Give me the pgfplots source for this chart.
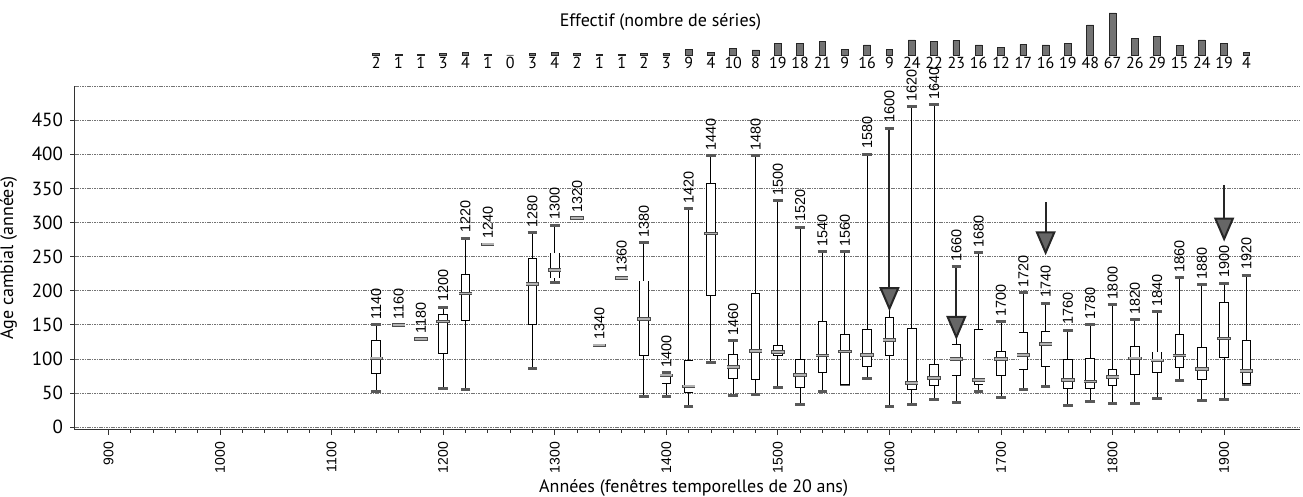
\documentclass[border=0pt]{standalone}
\usepackage{fontspec}
\setmainfont{PT Sans}
\newfontfamily\arial{Liberation Sans}
\usepackage{pgfplots}
\pgfplotsset{compat=1.18}
\usepackage{pgfplotstable}
\usetikzlibrary{arrows.meta}

% effectif par fenetre de 20 ans
\pgfplotstableread{
x c
1140 2
1160 1
1180 1
1200 3
1220 4
1240 1
1260 0
1280 3
1300 4
1320 2
1340 1
1360 1
1380 2
1400 3
1420 9
1440 4
1460 10
1480 8
1500 19
1520 18
1540 21
1560 9
1580 16
1600 9
1620 24
1640 22
1660 23
1680 16
1700 12
1720 17
1740 16
1760 19
1780 48
1800 67
1820 26
1840 29
1860 15
1880 24
1900 19
1920 4
}\counts

% boites : min, q1, mediane, q3, max
\pgfplotstableread{
x lw q1 med q3 uw
1140 53 78 101 128 150
1160 150 150 150 150 150
1180 129 129 129 129 129
1200 57 108 155 166 176
1220 56 156 196 224 277
1240 268 268 268 268 268
1280 86 150 210 248 285
1300 212 218 230 256 296
1320 307 307 307 307 307
1340 120 120 120 120 120
1360 219 219 219 219 219
1380 45 104 159 215 270
1400 45 64 76 78 80
1420 30 50 60 98 320
1440 95 192 284 358 398
1460 46 71 88 107 127
1480 48 69 112 197 398
1500 58 104 110 120 332
1520 33 57 77 100 293
1540 52 80 105 155 257
1560 62 62 111 136 257
1580 72 88 106 144 400
1600 31 104 128 162 438
1620 34 55 65 145 470
1640 41 61 72 92 473
1660 36 75 100 122 235
1680 52 62 69 144 256
1700 44 75 100 112 155
1720 56 84 106 139 197
1740 60 88 122 141 182
1760 32 56 69 100 142
1780 38 56 67 101 150
1800 35 60 74 85 180
1820 35 77 101 119 158
1840 42 79 98 111 169
1860 68 87 105 137 219
1880 39 69 85 118 209
1900 40 102 130 184 211
1920 63 63 82 128 223
}\boxes

% fleches : depart et longueur
\pgfplotstableread{
x y v
1600 436 -266
1660 233 -105
1740 330 -78
1900 355 -83
}\arrows

\begin{document}
\begin{tikzpicture}
\useasboundingbox (0,0) rectangle (651.5pt,248.5pt);

% histogramme des effectifs
\begin{axis}[
  at={(37.5pt,221pt)}, anchor=south west,
  scale only axis, width=612.5pt, height=21pt,
  xmin=870, xmax=1968, ymin=0, ymax=67,
  axis line style={draw=none},
  xtick=data, xticklabels from table={\counts}{c},
  xticklabel style={font=\fontsize{8}{9}\selectfont, inner sep=1pt},
  major tick length=0pt,
  ytick=\empty,
  clip=false,
]
\addplot[ybar, bar width=3.4pt, fill=black!55, draw=black!85, line width=0.4pt] table[x=x, y=c] {\counts};
\node[font=\fontsize{9}{11}\selectfont] at (rel axis cs:0.478,0.79) {Effectif (nombre de séries)};
\end{axis}

% boites a moustaches
\begin{axis}[
  at={(37.5pt,33.5pt)}, anchor=south west,
  scale only axis, width=612.5pt, height=172pt,
  xmin=870, xmax=1968, ymin=-4, ymax=500,
  axis x line*=bottom, axis y line*=left,
  axis line style={black!80, line width=0.5pt},
  /pgf/number format/1000 sep={},
  /pgf/number format/assume math mode=true,
  xtick={900,1000,...,1900}, minor x tick num=4,
  ytick={0,50,...,450},
  extra y ticks={500}, extra y tick labels={},
  tick align=outside, major tick length=2.5pt, minor tick length=1.5pt,
  tick style={black!80, line width=0.4pt},
  ymajorgrids, extra y tick style={grid=major, major tick length=0pt},
  major grid style={black!55, line width=0.45pt, dash pattern=on 0.8pt off 0.4pt},
  xticklabel style={rotate=90, anchor=east, font=\arial\fontsize{7}{8}\selectfont},
  yticklabel style={font=\fontsize{9.5}{11}\selectfont},
  xlabel={Années (fenêtres temporelles de 20 ans)},
  ylabel={Age cambial (années)},
  label style={font=\fontsize{9}{11}\selectfont},
  xlabel style={at={(ticklabel cs:0.505)}, anchor=north, yshift=4pt},
  ylabel style={yshift=-2pt},
  clip=false,
]
% moustaches et butees
\addplot[draw=none, mark=none,
  error bars/.cd, y dir=both, y explicit,
  error bar style={draw=black, line width=0.5pt},
  error mark=|, error mark options={draw=black!65, line width=1.5pt, mark size=2.4pt}]
  table[x=x, y expr={(\thisrow{lw}+\thisrow{uw})/2},
        y error expr={(\thisrow{uw}-\thisrow{lw})/2}] {\boxes};
% boites : contour noir puis fond blanc
\addplot[draw=none, mark=none,
  error bars/.cd, y dir=both, y explicit,
  error bar style={draw=black, line width=4.8pt}, error mark=none]
  table[x=x, y expr={(\thisrow{q1}+\thisrow{q3})/2},
        y error expr={(\thisrow{q3}-\thisrow{q1})/2}] {\boxes};
\addplot[draw=none, mark=none,
  error bars/.cd, y dir=both, y explicit,
  error bar style={draw=white, line width=3.9pt}, error mark=none]
  table[x=x, y expr={(\thisrow{q1}+\thisrow{q3})/2},
        y error expr={max((\thisrow{q3}-\thisrow{q1})/2-1.3,0)}] {\boxes};
% medianes
\addplot[draw=none, mark=none,
  error bars/.cd, x dir=both, x fixed=6,
  error bar style={draw=black!70, line width=1.8pt}, error mark=none]
  table[x=x, y=med] {\boxes};
\addplot[draw=none, mark=none,
  error bars/.cd, x dir=both, x fixed=5.4,
  error bar style={draw=black!30, line width=0.9pt}, error mark=none]
  table[x=x, y=med] {\boxes};
% annees au-dessus des boites
\addplot[draw=none, mark=none, nodes near coords, point meta=explicit symbolic,
  nodes near coords style={rotate=90, anchor=west, inner sep=2.5pt,
    font=\arial\fontsize{7.2}{8}\selectfont}]
  table[x=x, y=uw, meta=x] {\boxes};
% fleches
\addplot[quiver={u=0, v=\thisrow{v}}, black!85, line width=1pt,
  -{Triangle[width=10pt, length=12pt, fill=black!60]}]
  table[x=x, y=y] {\arrows};
\end{axis}
\end{tikzpicture}
\end{document}
